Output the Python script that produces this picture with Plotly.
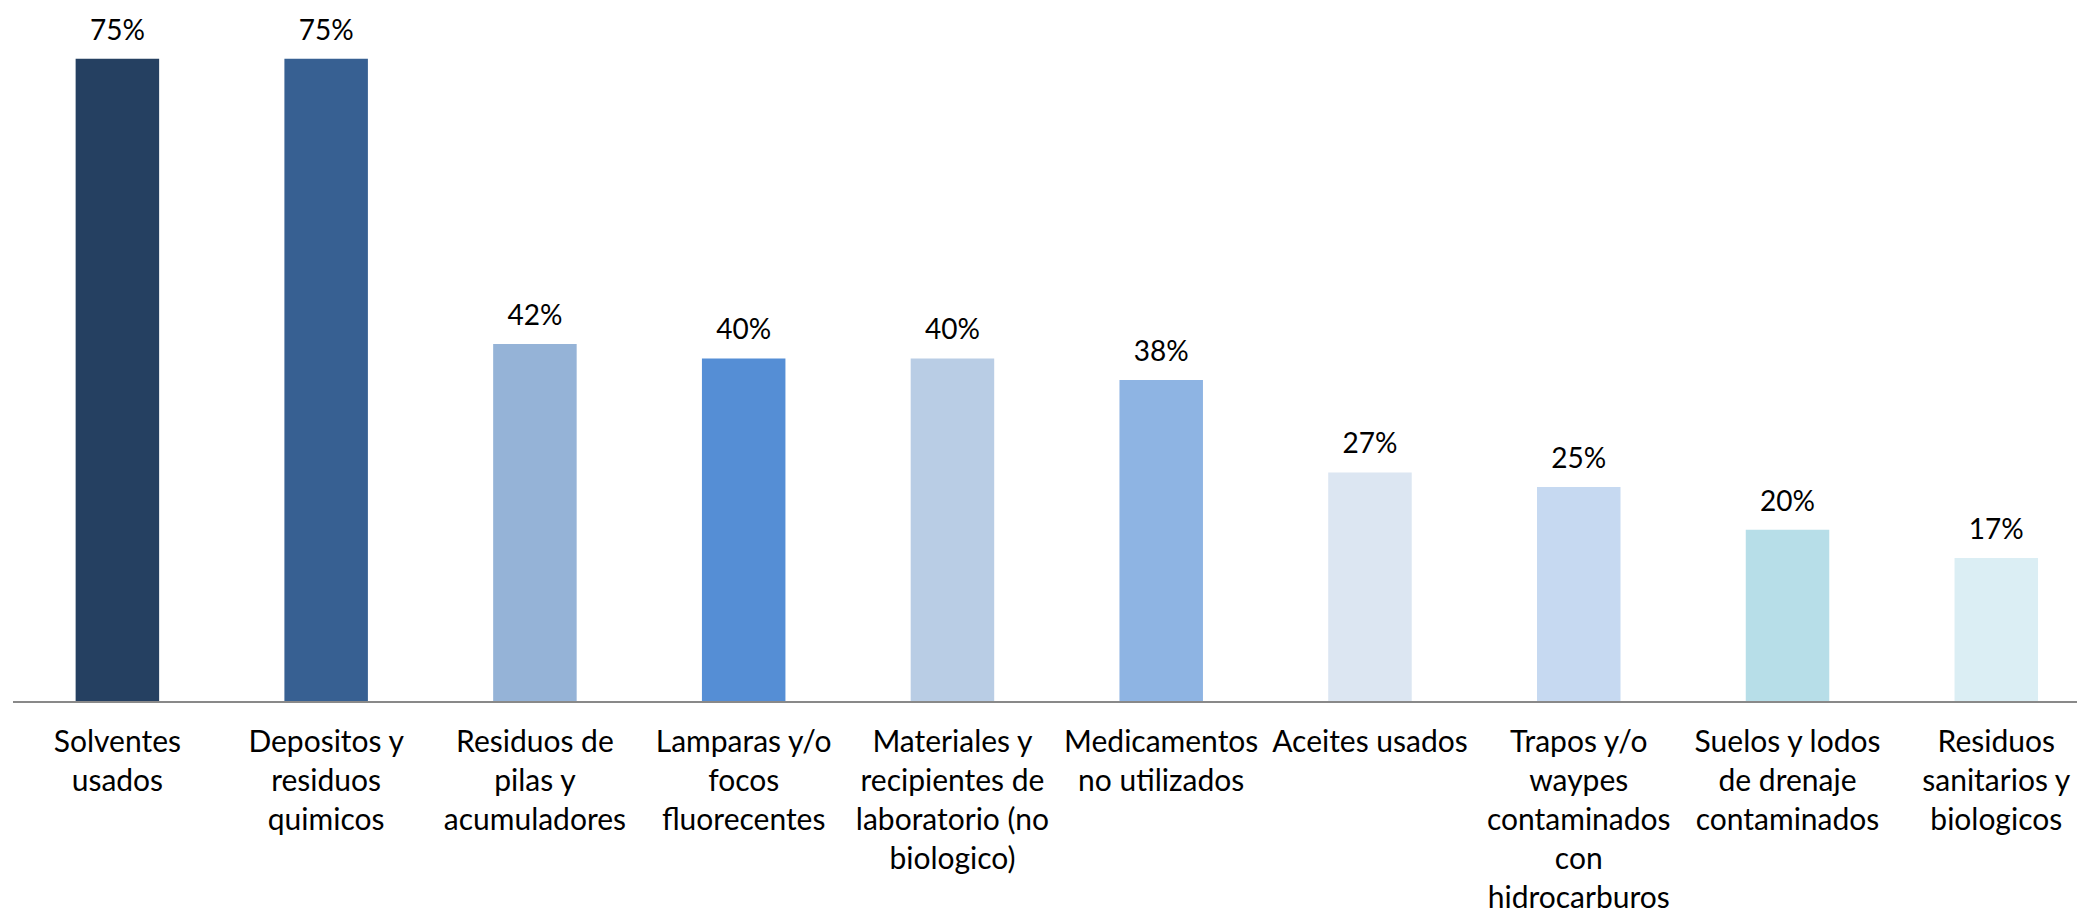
import plotly.graph_objects as go

categories = [
    "Solventes<br>usados",
    "Depositos y<br>residuos<br>quimicos",
    "Residuos de<br>pilas y<br>acumuladores",
    "Lamparas y/o<br>focos<br>fluorecentes",
    "Materiales y<br>recipientes de<br>laboratorio (no<br>biologico)",
    "Medicamentos<br>no utilizados",
    "Aceites usados",
    "Trapos y/o<br>waypes<br>contaminados<br>con<br>hidrocarburos",
    "Suelos y lodos<br>de drenaje<br>contaminados",
    "Residuos<br>sanitarios y<br>biologicos",
]
values = [0.75, 0.75, 0.417, 0.40, 0.40, 0.375, 0.267, 0.25, 0.20, 0.167]
colors = ["#254061", "#376092", "#95B3D7", "#558ED5", "#B9CDE5",
          "#8EB4E3", "#DCE6F2", "#C6D9F1", "#B7DEE8", "#DBEEF4"]

fig = go.Figure()
fig.add_trace(go.Bar(
    x=categories,
    y=values,
    marker=dict(color=colors, line=dict(width=0)),
    hoverinfo="skip",
))
fig.add_trace(go.Scatter(
    x=categories,
    y=values,
    mode="markers+text",
    marker=dict(size=18, color="rgba(0,0,0,0)"),
    texttemplate="%{y:.0%}",
    textposition="top center",
    textfont=dict(family="Lato", size=28, color="#000000"),
    cliponaxis=False,
    hoverinfo="skip",
))

fig.update_layout(
    width=2077, height=904,
    margin=dict(l=5, r=0, t=8, b=211, autoexpand=False),
    paper_bgcolor="white", plot_bgcolor="white",
    bargap=0.6,
    showlegend=False,
    font=dict(family="Lato", size=30, color="#000000"),
)
fig.update_xaxes(
    range=[-0.5, 9.425],
    automargin=False,
    showline=True, linecolor="#898989", linewidth=2,
    showgrid=False, ticks="",
    ticklabelstandoff=13,
    tickfont=dict(family="Lato", size=30, color="#000000"),
    tickangle=0,
)
fig.update_yaxes(range=[0, 0.8], visible=False, showgrid=False, automargin=False)

fig.write_html("out.html")
